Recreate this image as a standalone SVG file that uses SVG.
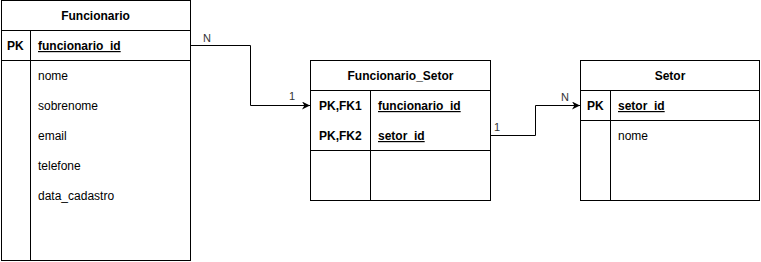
<svg xmlns="http://www.w3.org/2000/svg" width="761" height="262" viewBox="0 0 761 262">
  <style>
    .box { fill: #ffffff; stroke: #000000; stroke-width: 1; }
    .ln { fill: none; stroke: #000000; stroke-width: 1; }
    text { font-family: "Liberation Sans", Arial, Helvetica, sans-serif; font-size: 12px; fill: #000000; }
    .hd { font-weight: bold; text-anchor: middle; }
    .key { font-weight: bold; }
    .u { text-decoration: underline; }
    .lbl { fill: #333333; font-size: 11px; }
  </style>
  <defs>
    <marker id="arrow" viewBox="0 0 10 10" refX="10" refY="5" markerWidth="8" markerHeight="8" markerUnits="userSpaceOnUse" orient="auto">
      <path d="M0,0 L10,5 L0,10 L3,5 Z" fill="#000000"/>
    </marker>
  </defs>

  <g id="connectors">
    <path class="ln" d="M190.5,45.5 H250.5 V105.5 H310" marker-end="url(#arrow)"/>
    <text class="lbl" x="203" y="42">N</text>
    <text class="lbl" x="289" y="100">1</text>
    <path class="ln" d="M490.5,135.5 H535.5 V105.5 H580" marker-end="url(#arrow)"/>
    <text class="lbl" x="494" y="131">1</text>
    <text class="lbl" x="561" y="101">N</text>
  </g>

  <g id="funcionario">
    <rect class="box" x="1.5" y="0.5" width="189" height="260"/>
    <path class="ln" d="M1.5,30.5 H190.5 M1.5,60.5 H190.5 M30.5,30.5 V260.5"/>
    <text class="hd" x="95.5" y="20">Funcionario</text>
    <text class="key" x="7" y="50">PK</text>
    <text class="key u" x="38" y="50">funcionario_id</text>
    <text x="38" y="80">nome</text>
    <text x="38" y="110">sobrenome</text>
    <text x="38" y="140">email</text>
    <text x="38" y="170">telefone</text>
    <text x="38" y="200">data_cadastro</text>
  </g>

  <g id="funcionario_setor">
    <rect class="box" x="310.5" y="60.5" width="180" height="140"/>
    <path class="ln" d="M310.5,90.5 H490.5 M310.5,150.5 H490.5 M370.5,90.5 V200.5"/>
    <text class="hd" x="400.5" y="80">Funcionario_Setor</text>
    <text class="key" x="319" y="110">PK,FK1</text>
    <text class="key u" x="378" y="110">funcionario_id</text>
    <text class="key" x="319" y="140">PK,FK2</text>
    <text class="key u" x="378" y="140">setor_id</text>
  </g>

  <g id="setor">
    <rect class="box" x="580.5" y="60.5" width="179" height="140"/>
    <path class="ln" d="M580.5,90.5 H759.5 M580.5,120.5 H759.5 M610.5,90.5 V200.5"/>
    <text class="hd" x="670" y="80">Setor</text>
    <text class="key" x="587" y="110">PK</text>
    <text class="key u" x="618" y="110">setor_id</text>
    <text x="618" y="140">nome</text>
  </g>
</svg>
